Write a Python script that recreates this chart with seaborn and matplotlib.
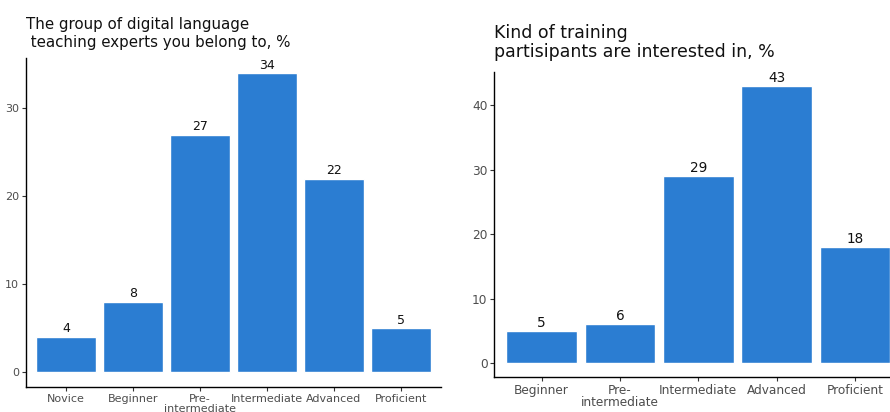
import matplotlib
matplotlib.use("Agg")
import matplotlib.pyplot as plt
import pandas as pd
import seaborn as sns

# data
expert_groups = ['Novice', 'Beginner', 'Pre-\nintermediate', 'Intermediate', 'Advanced', 'Proficient']
expert_pct = [4, 8, 27, 34, 22, 5]

training_kinds = ['Beginner', 'Pre-\nintermediate', 'Intermediate', 'Advanced', 'Proficient']
training_pct = [5, 6, 29, 43, 18]

left_title = 'The group of digital language\n teaching experts you belong to, %'
right_title = 'Kind of training\npartisipants are interested in, %'

sns.set_style('white')
plt.rcParams['font.family'] = ['DejaVu Sans']
bar_color = '#2B7DD2'

fig = plt.figure(figsize=(8.9, 4.12), dpi=100)
ax1 = fig.add_axes([0.0292, 0.0607, 0.4663, 0.7985])
ax2 = fig.add_axes([0.5556, 0.085, 0.4579, 0.740])


def draw_panel(ax, cats, vals, title, title_size, title_y, title_ls,
               tick_size, label_size):
    df = pd.DataFrame({'cat': cats, 'pct': vals})
    sns.barplot(data=df, x='cat', y='pct', color=bar_color, width=0.9,
                saturation=1, ax=ax)
    ax.bar_label(ax.containers[0], fontsize=label_size, padding=1,
                 color='#111111')
    top = max(vals)
    ax.set_ylim(-0.05 * top, 1.05 * top)
    ax.set_xlim(-0.6, len(cats) - 0.4)
    ax.set_xlabel('')
    ax.set_ylabel('')
    for s in ['top', 'right']:
        ax.spines[s].set_visible(False)
    for s in ['left', 'bottom']:
        ax.spines[s].set_color('black')
        ax.spines[s].set_linewidth(1.0)
    ax.tick_params(axis='both', which='both', direction='out', length=3,
                   width=0.8, color='#333333', labelsize=tick_size,
                   labelcolor='#4D4D4D', bottom=True, left=True, pad=2)
    for lab in ax.get_xticklabels():
        lab.set_linespacing(0.95)
    ax.text(0.0, title_y, title, transform=ax.transAxes, ha='left',
            va='bottom', fontsize=title_size, color='#111111',
            linespacing=title_ls)


draw_panel(ax1, expert_groups, expert_pct, left_title, 10.8, 1.025, 1.2, 8, 9)
draw_panel(ax2, training_kinds, training_pct, right_title, 12.5, 1.035, 1.1, 8.7, 9.8)
ax1.set_yticks([0, 10, 20, 30])
ax2.set_yticks([0, 10, 20, 30, 40])

fig.savefig('out.png', dpi=100)
